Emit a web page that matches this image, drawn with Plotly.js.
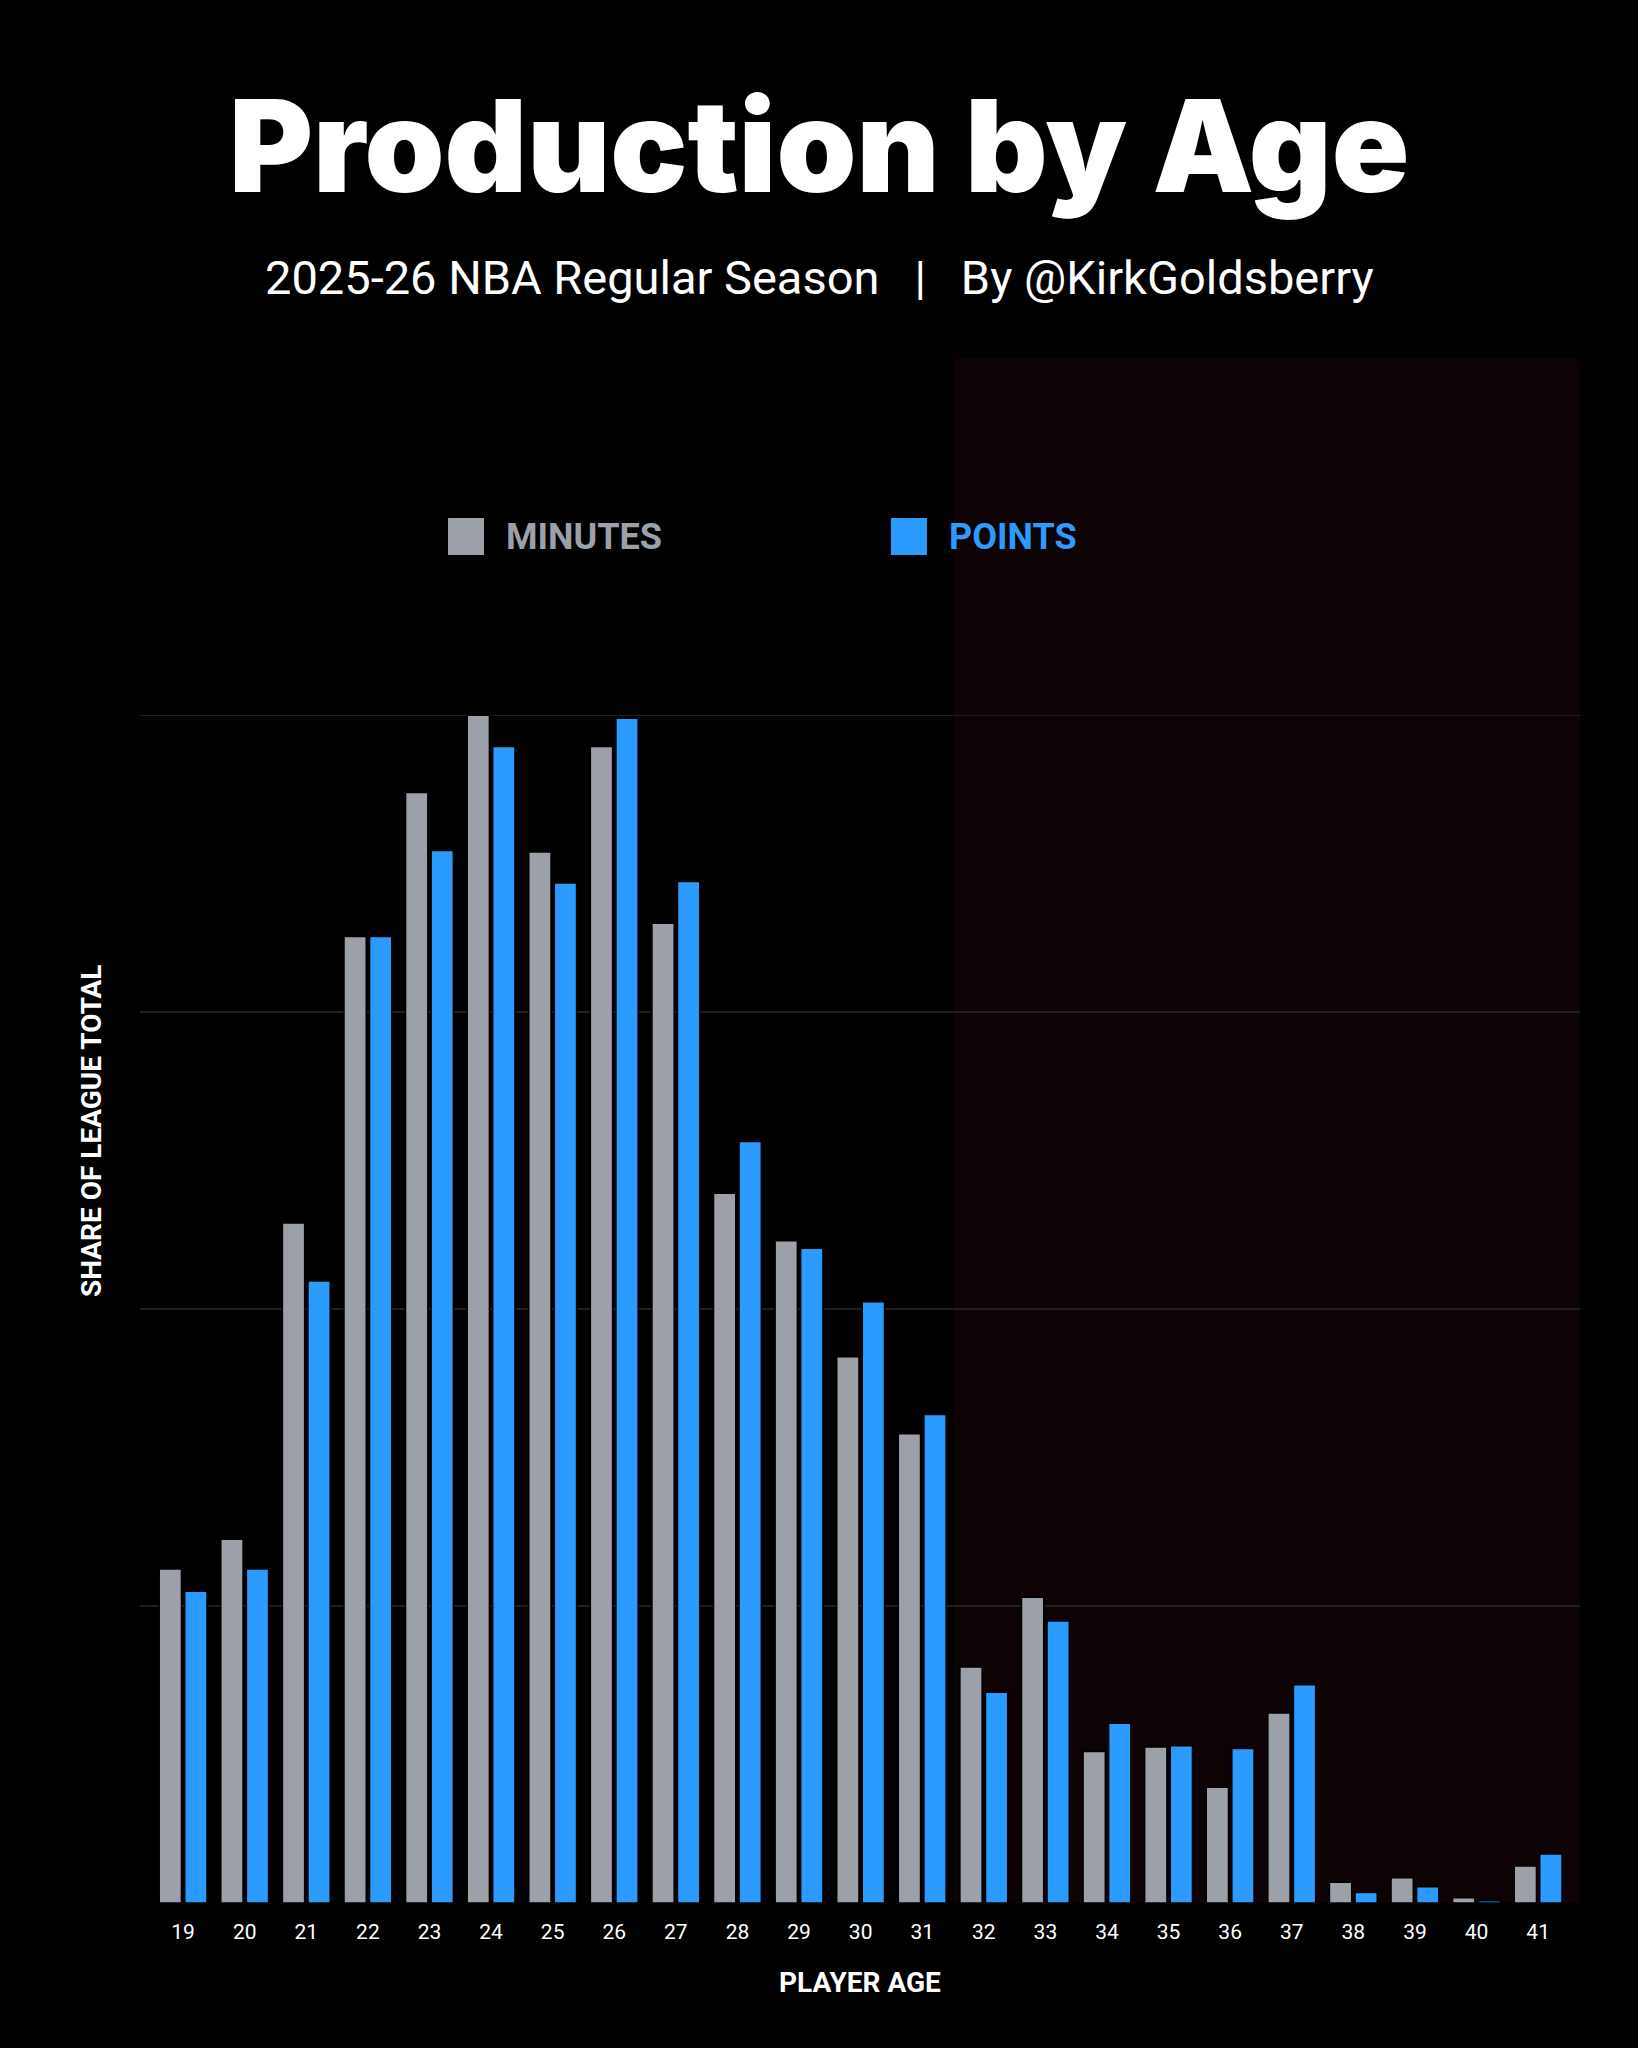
<!DOCTYPE html>
<html>
<head>
<meta charset="utf-8">
<script src="https://cdn.plot.ly/plotly-3.0.1.min.js"></script>
<style>
  html, body { margin: 0; padding: 0; background: #000; }
  #myDiv { width: 1638px; height: 2048px; }
</style>
</head>
<body>
<div id="myDiv"></div>
<script>
  var ages = [19, 20, 21, 22, 23, 24, 25, 26, 27, 28, 29, 30, 31, 32, 33, 34, 35, 36, 37, 38, 39, 40, 41];
  var ageLabels = ages.map(String);

  // share of league total, percent
  var minutesShare = [2.25, 2.45, 4.58, 6.51, 7.48, 8.0, 7.08, 7.79, 6.60, 4.78, 4.46, 3.68, 3.16,
                      1.59, 2.06, 1.02, 1.05, 0.78, 1.28, 0.14, 0.17, 0.035, 0.25];
  var pointsShare = [2.10, 2.25, 4.19, 6.51, 7.09, 7.79, 6.87, 7.98, 6.88, 5.13, 4.41, 4.05, 3.29,
                     1.42, 1.90, 1.21, 1.06, 1.04, 1.47, 0.07, 0.11, 0.015, 0.33];

  var gray = '#9ca0a8';
  var blue = '#2b9bff';

  var trace1 = {
    x: ages,
    y: minutesShare,
    name: 'MINUTES',
    type: 'bar',
    marker: { color: gray, line: { color: '#000', width: 1.5 } },
    hoverinfo: 'x+y'
  };
  var trace2 = {
    x: ages,
    y: pointsShare,
    name: 'POINTS',
    type: 'bar',
    marker: { color: blue, line: { color: '#000', width: 1.5 } },
    hoverinfo: 'x+y'
  };
  var data = [trace1, trace2];

  var font = 'Roboto, "Liberation Sans", sans-serif';
  // page centre expressed in paper units (plot starts at 140px, 1440px wide)
  var pageMid = (819 - 140) / 1440;

  var layout = {
    width: 1638,
    height: 2048,
    paper_bgcolor: '#000',
    plot_bgcolor: '#000',
    showlegend: false,
    barmode: 'group',
    bargap: 0.17,
    bargroupgap: 0.13,
    margin: { l: 140, r: 58, t: 359, b: 145 },
    xaxis: {
      range: [18.3, 41.68],
      tickvals: ages,
      ticktext: ageLabels,
      tickfont: { family: font, size: 21, color: '#fff' },
      ticks: '',
      ticklabelstandoff: 14,
      showgrid: false,
      zeroline: false,
      showline: false,
      fixedrange: true
    },
    yaxis: {
      range: [0, 10.4],
      tickvals: [0, 2, 4, 6, 8],
      showticklabels: false,
      gridcolor: '#1f1f1f',
      gridwidth: 1.5,
      zeroline: false,
      showline: false,
      fixedrange: true
    },
    shapes: [
      // shaded "veterans" zone
      { type: 'rect', xref: 'x', yref: 'paper', x0: 31.5, x1: 41.68, y0: 0, y1: 1,
        fillcolor: '#0d0304', line: { width: 0 }, layer: 'below' },
      // legend squares
      { type: 'rect', xref: 'paper', yref: 'paper', x0: 0.2139, x1: 0.2389, y0: 0.873, y1: 0.897,
        fillcolor: gray, line: { width: 0 } },
      { type: 'rect', xref: 'paper', yref: 'paper', x0: 0.5215, x1: 0.5465, y0: 0.873, y1: 0.897,
        fillcolor: blue, line: { width: 0 } }
    ],
    annotations: [
      { text: 'Production by Age', xref: 'paper', yref: 'paper', x: pageMid, y: 1.1386,
        xanchor: 'center', yanchor: 'middle', showarrow: false,
        font: { family: 'Inter, Roboto, sans-serif', size: 128, color: '#fff', weight: 900 } },
      { text: '2025-26 NBA Regular Season   |   By @KirkGoldsberry', xref: 'paper', yref: 'paper',
        x: pageMid, y: 1.053, xanchor: 'center', yanchor: 'middle', showarrow: false,
        font: { family: font, size: 47, color: '#fff' } },
      { text: 'MINUTES', xref: 'paper', yref: 'paper', x: 0.2528, y: 0.885,
        xanchor: 'left', yanchor: 'middle', showarrow: false,
        font: { family: font, size: 36, color: gray, weight: 700 } },
      { text: 'POINTS', xref: 'paper', yref: 'paper', x: 0.5604, y: 0.885,
        xanchor: 'left', yanchor: 'middle', showarrow: false,
        font: { family: font, size: 36, color: blue, weight: 700 } },
      { text: 'SHARE OF LEAGUE TOTAL', xref: 'paper', yref: 'paper', x: -0.034, y: 0.5,
        xanchor: 'center', yanchor: 'middle', textangle: -90, showarrow: false,
        font: { family: font, size: 28, color: '#fff', weight: 700 } },
      { text: 'PLAYER AGE', xref: 'paper', yref: 'paper', x: 0.5, y: -0.0512,
        xanchor: 'center', yanchor: 'middle', showarrow: false,
        font: { family: font, size: 28, color: '#fff', weight: 700 } }
    ]
  };

  Plotly.newPlot('myDiv', data, layout, { staticPlot: true });
</script>
</body>
</html>
